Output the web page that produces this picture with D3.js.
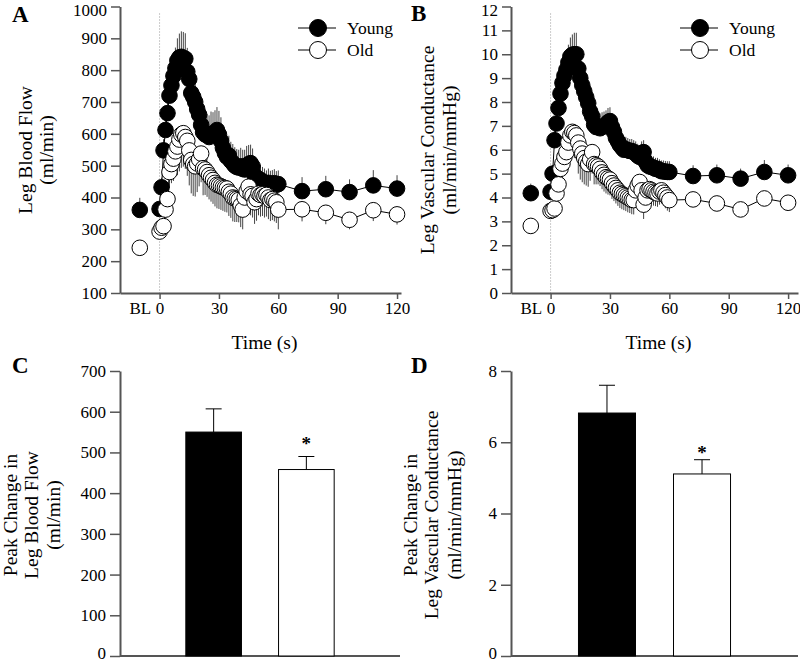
<!DOCTYPE html>
<html><head><meta charset="utf-8">
<script src="https://cdn.jsdelivr.net/npm/d3@7"></script>
<style>body{margin:0;background:#fff}svg{display:block}</style>
</head><body><svg id="c" width="800" height="663"></svg>
<script>
// ---------- DATA ----------
const timePoints = [0,1,2,3,4,5,6,7,8,9,10,11,12,13,14,15,16,17,18,19,20,21,22,23,24,25,26,27,28,29,30,31,32,33,34,35,36,37,38,39,40,41,42,43,44,45,46,47,48,49,50,51,52,53,54,55,56,57,58,59,60,72,84,96,108,120];
const blTime = -10;
const seriesNames = ["Young", "Old"];

const youngFlow = [364,432,548,612,665,720,752,782,806,830,840,842,838,836,795,772,728,716,700,678,660,628,605,598,596,590,600,598,604,612,598,578,556,540,528,532,515,508,500,496,494,498,490,488,500,505,508,498,470,460,458,455,450,445,440,446,440,442,445,440,442,420,426,417,438,428];
const youngFlowSE = [25,30,35,40,45,50,55,60,65,70,75,80,82,80,75,72,70,68,66,65,63,62,62,64,66,68,70,70,70,72,74,74,72,70,66,62,60,60,58,56,56,58,60,62,62,60,58,56,54,52,50,48,46,46,45,45,44,44,44,43,43,44,42,40,48,42];
const oldFlow = [293,305,310,362,395,480,505,522,545,560,582,598,602,590,578,548,518,505,498,507,520,538,492,488,480,470,462,455,446,440,438,435,432,430,428,418,412,400,397,395,392,375,362,400,420,434,410,405,385,395,412,408,410,405,408,400,392,395,390,385,362,363,352,330,360,347];
const oldFlowSE = [20,22,25,30,40,50,60,70,80,90,100,105,105,100,110,110,105,100,95,90,85,90,85,80,78,76,75,75,74,74,74,74,74,75,75,76,76,75,74,72,70,68,62,60,62,64,66,68,68,68,68,68,68,68,68,68,66,66,65,65,62,38,36,30,34,32];
const flowBL = [361, 242];
const flowBLSE = [38, 22];

const youngCond = [4.24,5.0,6.4,7.1,7.75,8.35,8.8,9.1,9.35,9.65,9.9,9.98,10.0,10.0,9.4,9.0,8.7,8.45,8.2,7.95,7.6,7.4,7.05,6.95,6.95,6.9,6.95,7.0,7.05,7.15,7.2,6.95,6.75,6.5,6.35,6.2,6.1,6.0,6.02,5.98,5.95,5.95,5.9,5.85,5.75,5.7,5.85,5.9,5.5,5.35,5.3,5.28,5.25,5.2,5.2,5.15,5.1,5.1,5.08,5.07,5.07,4.9,4.93,4.79,5.07,4.93];
const youngCondSE = [0.3,0.35,0.4,0.45,0.5,0.55,0.6,0.65,0.7,0.75,0.8,0.85,0.9,0.9,0.85,0.8,0.78,0.75,0.72,0.7,0.68,0.66,0.65,0.64,0.63,0.62,0.62,0.6,0.6,0.6,0.58,0.57,0.56,0.55,0.55,0.54,0.53,0.52,0.52,0.51,0.5,0.5,0.5,0.5,0.5,0.5,0.5,0.5,0.5,0.48,0.48,0.47,0.47,0.46,0.46,0.45,0.45,0.45,0.45,0.45,0.45,0.45,0.45,0.42,0.5,0.45];
const oldCond = [3.44,3.47,3.54,4.17,4.55,5.2,5.42,5.7,5.9,6.3,6.6,6.75,6.7,6.6,6.3,6.05,5.84,5.65,5.5,5.4,5.6,5.9,5.4,5.35,5.3,5.2,5.05,4.95,4.85,4.8,4.75,4.6,4.5,4.4,4.3,4.2,4.15,4.1,4.05,4.0,3.95,3.9,3.89,4.3,4.5,4.65,4.3,3.7,4.0,4.3,4.35,4.3,4.24,4.2,4.17,4.25,4.3,4.2,4.1,4.0,3.89,3.92,3.75,3.5,3.96,3.78];
const oldCondSE = [0.25,0.25,0.3,0.35,0.45,0.55,0.65,0.75,0.85,0.95,1.0,1.05,1.05,1.0,1.3,1.3,1.2,1.1,1.0,0.95,0.9,0.9,0.85,0.8,0.75,0.72,0.7,0.7,0.68,0.68,0.66,0.66,0.65,0.65,0.65,0.64,0.64,0.63,0.62,0.62,0.6,0.6,0.6,0.6,0.6,0.6,0.6,0.6,0.6,0.6,0.58,0.58,0.58,0.56,0.56,0.55,0.55,0.55,0.55,0.55,0.5,0.3,0.3,0.3,0.3,0.3];
const condBL = [4.18, 2.81];
const condBLSE = [0.4, 0.2];

const peakFlow = [550, 458];
const peakFlowSE = [57, 32];
const peakCond = [6.82, 5.11];
const peakCondSE = [0.78, 0.4];
const significance = ["", "*"];

const xTickValues = [-10, 0, 30, 60, 90, 120];
const xTickLabels = ["BL", "0", "30", "60", "90", "120"];
const flowTicks = [100,200,300,400,500,600,700,800,900,1000];
const condTicks = [0,1,2,3,4,5,6,7,8,9,10,11,12];
const peakFlowTicks = [0,100,200,300,400,500,600,700];
const peakCondTicks = [0,2,4,6,8];

// ---------- DRAWING ----------
const FONT = '"Liberation Serif","Times New Roman",Times,serif';
const AXC = "#555";
const svg = d3.select("#c");

function styleAxis(g, fs) {
  g.attr("font-family", FONT).attr("font-size", fs);
  g.select(".domain").attr("stroke", AXC).attr("stroke-width", 2);
  g.selectAll(".tick line").attr("stroke", AXC).attr("stroke-width", 1.5);
  g.selectAll(".tick text").attr("fill", "#000").style("font-family", FONT).style("font-size", fs + "px");
}

function txt(x, y, s, size, opts = {}) {
  const t = svg.append("text").attr("x", x).attr("y", y).text(s)
    .style("font-family", FONT).style("font-size", size + "px")
    .attr("text-anchor", opts.anchor || "start")
    .attr("font-weight", opts.bold ? "bold" : "normal");
  if (opts.rot) t.attr("transform", `rotate(-90,${x},${y})`).attr("dy", "0.35em");
  return t;
}

const plain = d => String(d);

// keep edge tick labels inside the canvas
function nudgeEdgeLabels(ya, y) {
  ya.selectAll(".tick text").attr("y", function(d) {
    const p = y(d);
    if (p < 12) return 3.5;
    if (p > 650) return -2.5;
    return 0;
  });
}

function linePanel(o) {
  const x = d3.scaleLinear().domain(o.xDomain).range(o.xRange);
  const y = d3.scaleLinear().domain(o.yDomain).range(o.yRange);
  const g = svg.append("g");
  g.append("line").attr("x1", x(0)).attr("x2", x(0))
    .attr("y1", o.yRange[1] + 7).attr("y2", o.yRange[0])
    .attr("stroke", "#999").attr("stroke-width", 1).attr("stroke-dasharray", "1,2");
  const ya = g.append("g").attr("transform", `translate(${o.xRange[0]},0)`)
    .call(d3.axisLeft(y).tickValues(o.yTicks).tickFormat(plain).tickSize(9).tickPadding(4).tickSizeOuter(0));
  styleAxis(ya, 17);
  nudgeEdgeLabels(ya, y);
  const xa = g.append("g").attr("transform", `translate(0,${o.yRange[0]})`)
    .call(d3.axisBottom(x).tickValues(xTickValues).tickFormat((d, i) => xTickLabels[i]).tickSize(6).tickPadding(3).tickSizeOuter(0));
  styleAxis(xa, 17);
  xa.selectAll(".tick").filter(d => d < 0).select("line").remove();

  const series = [
    {vals: o.young, se: o.youngSE, bl: o.bl[0], blse: o.blse[0], fill: "#000", dir: 1},
    {vals: o.old, se: o.oldSE, bl: o.bl[1], blse: o.blse[1], fill: "#fff", dir: -1}
  ];
  const line = d3.line().x(d => x(d.t)).y(d => y(d.v));
  series.forEach(s => {
    const pts = timePoints.map((t, i) => ({t, v: s.vals[i], e: s.se[i]}));
    pts.unshift({t: blTime, v: s.bl, e: s.blse});
    g.append("g").selectAll("line").data(pts).join("line")
      .attr("x1", d => x(d.t)).attr("x2", d => x(d.t))
      .attr("y1", d => y(d.v)).attr("y2", d => y(d.v + s.dir * d.e))
      .attr("stroke", "#444").attr("stroke-width", 1);
  });
  series.forEach(s => {
    const pts = timePoints.map((t, i) => ({t, v: s.vals[i]}));
    g.append("path").datum(pts).attr("d", line).attr("fill", "none").attr("stroke", "#000").attr("stroke-width", 1);
  });
  series.forEach(s => {
    const pts = timePoints.map((t, i) => ({t, v: s.vals[i]}));
    pts.unshift({t: blTime, v: s.bl});
    g.append("g").selectAll("circle").data(pts).join("circle")
      .attr("cx", d => x(d.t)).attr("cy", d => y(d.v)).attr("r", 7.8)
      .attr("fill", s.fill).attr("stroke", "#000").attr("stroke-width", 1);
  });
  // legend
  seriesNames.forEach((n, i) => {
    const ly = o.legY + i * 22;
    g.append("line").attr("x1", o.legX - 20).attr("x2", o.legX + 18).attr("y1", ly).attr("y2", ly).attr("stroke", "#000");
    g.append("circle").attr("cx", o.legX).attr("cy", ly).attr("r", 8.5)
      .attr("fill", i === 0 ? "#000" : "#fff").attr("stroke", "#000");
    txt(o.legX + 29, ly + 6, n, 17.5);
  });
  const cx = (o.xRange[0] + o.xRange[1]) / 2;
  txt(cx + 4, o.yRange[0] + 56, "Time (s)", 19.5, {anchor: "middle"});
}

function barPanel(o) {
  const x = d3.scaleBand().domain(seriesNames).range(o.xRange).paddingInner(0.4).paddingOuter(0.71);
  const y = d3.scaleLinear().domain(o.yDomain).range(o.yRange);
  const g = svg.append("g");
  const ya = g.append("g").attr("transform", `translate(${o.xRange[0]},0)`)
    .call(d3.axisLeft(y).tickValues(o.yTicks).tickFormat(plain).tickSize(10).tickPadding(4).tickSizeOuter(0));
  styleAxis(ya, 17);
  nudgeEdgeLabels(ya, y);
  g.append("line").attr("x1", o.xRange[0]).attr("x2", o.xRange[1])
    .attr("y1", o.yRange[0]).attr("y2", o.yRange[0]).attr("stroke", AXC).attr("stroke-width", 2);
  seriesNames.forEach((n, i) => {
    const xc = x(n) + x.bandwidth() / 2;
    const top = y(o.vals[i] + o.se[i]);
    g.append("line").attr("x1", xc).attr("x2", xc).attr("y1", y(o.vals[i])).attr("y2", top).attr("stroke", "#000");
    g.append("line").attr("x1", xc - 8).attr("x2", xc + 8).attr("y1", top).attr("y2", top).attr("stroke", "#000");
    g.append("rect").attr("x", x(n)).attr("width", x.bandwidth())
      .attr("y", y(o.vals[i])).attr("height", o.yRange[0] - y(o.vals[i]))
      .attr("fill", i === 0 ? "#000" : "#fff").attr("stroke", "#000").attr("stroke-width", 1);
    if (significance[i]) txt(xc, top - o.starOff, significance[i], 19, {anchor: "middle", bold: true});
  });
}

linePanel({xDomain: [-20, 122], xRange: [120, 401], yDomain: [100, 1000], yRange: [293, 6.5], yTicks: flowTicks,
  young: youngFlow, youngSE: youngFlowSE, old: oldFlow, oldSE: oldFlowSE, bl: flowBL, blse: flowBLSE, legX: 318, legY: 28});
linePanel({xDomain: [-20, 125], xRange: [511, 798], yDomain: [0, 12], yRange: [293, 6.5], yTicks: condTicks,
  young: youngCond, youngSE: youngCondSE, old: oldCond, oldSE: oldCondSE, bl: condBL, blse: condBLSE, legX: 700, legY: 28});
barPanel({xRange: [120, 400], yDomain: [0, 700], yRange: [656, 371], yTicks: peakFlowTicks, vals: peakFlow, se: peakFlowSE, starOff: 7});
barPanel({xRange: [511, 798], yDomain: [0, 8], yRange: [656, 371], yTicks: peakCondTicks, vals: peakCond, se: peakCondSE, starOff: 1});

// panel letters
txt(12, 22, "A", 23, {bold: true});
txt(411, 21, "B", 23, {bold: true});
txt(12, 373, "C", 23, {bold: true});
txt(411, 373, "D", 23, {bold: true});
// y titles
txt(25, 150, "Leg Blood Flow", 19.5, {anchor: "middle", rot: true});
txt(46, 150, "(ml/min)", 19.5, {anchor: "middle", rot: true});
txt(427, 150, "Leg Vascular Conductance", 19.5, {anchor: "middle", rot: true});
txt(449, 150, "(ml/min/mmHg)", 19.5, {anchor: "middle", rot: true});
txt(10, 515, "Peak Change in", 19.5, {anchor: "middle", rot: true});
txt(31, 515, "Leg Blood Flow", 19.5, {anchor: "middle", rot: true});
txt(53, 515, "(ml/min)", 19.5, {anchor: "middle", rot: true});
txt(410, 515, "Peak Change in", 19.5, {anchor: "middle", rot: true});
txt(431, 515, "Leg Vascular Conductance", 19.5, {anchor: "middle", rot: true});
txt(454, 515, "(ml/min/mmHg)", 19.5, {anchor: "middle", rot: true});
</script></body></html>
